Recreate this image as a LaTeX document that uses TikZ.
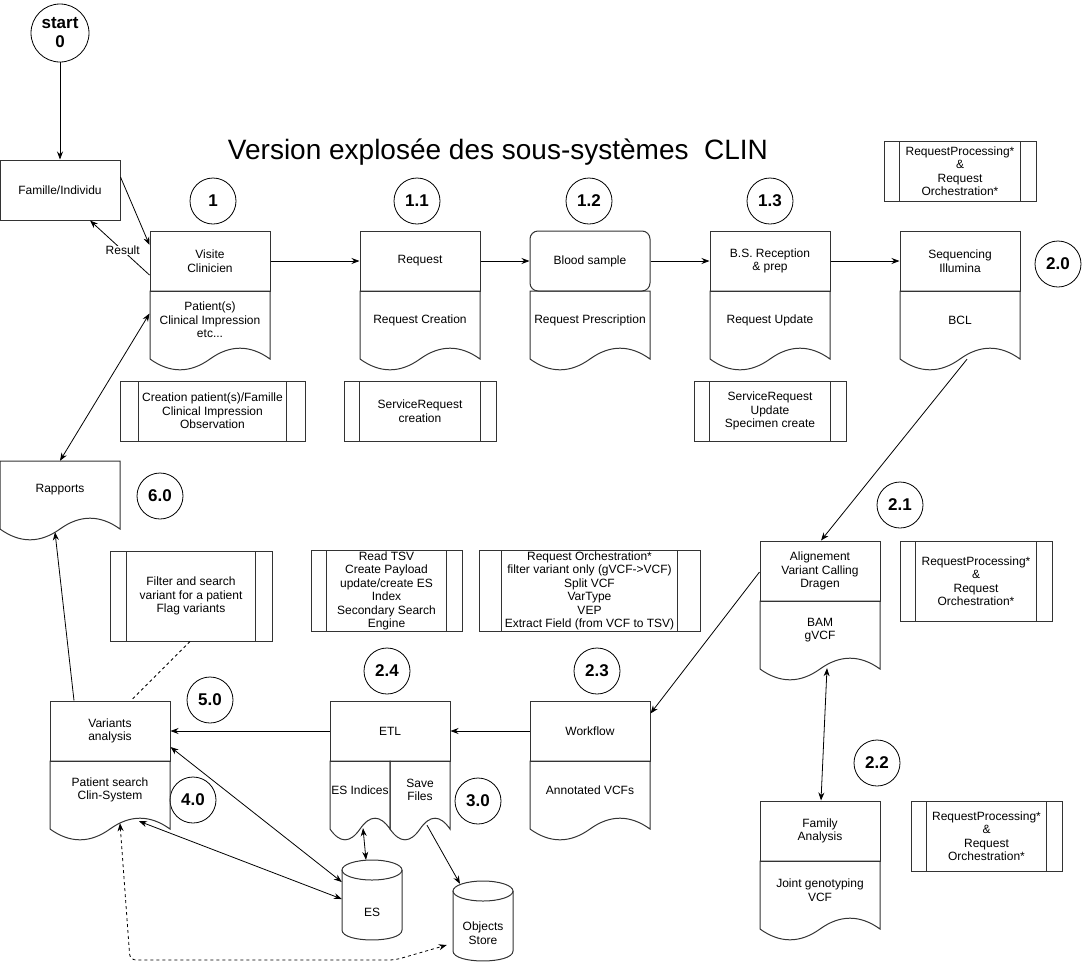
\documentclass[tikz,border=0pt]{standalone}
\usepackage{fontspec}
\setmainfont{Liberation Sans}
\usetikzlibrary{arrows.meta,calc}

% document shape: name, x, y, width, height, text
\newcommand\docshape[6]{%
  \draw[outline] (#2,#3) -- ({#2+#4},#3) -- ({#2+#4},{#3+0.85*#5})
    .. controls ({#2+5*#4/6},{#3+0.67*#5}) and ({#2+2*#4/3},{#3+0.67*#5}) .. ({#2+#4/2},{#3+0.85*#5})
    .. controls ({#2+#4/3},{#3+1.03*#5}) and ({#2+#4/6},{#3+1.03*#5}) .. (#2,{#3+0.85*#5}) -- cycle;
  \node[minimum width=#4, minimum height=#5, inner sep=0pt] (#1) at ({#2+#4/2},{#3+#5/2}) {};
  \node[lbl] (#1-txt) at ({#2+#4/2},{#3+29}) {#6};
}
% storage cylinder: name, x, y, width, height, text
\newcommand\dbstore[6]{%
  \draw[outline] ({#2+#4/2},{#3+10}) ellipse [x radius={#4/2}, y radius=10];
  \draw[outline] (#2,{#3+10}) -- (#2,{#3+#5-10})
    .. controls (#2,{#3+#5+3.3}) and ({#2+#4},{#3+#5+3.3}) .. ({#2+#4},{#3+#5-10}) -- ({#2+#4},{#3+10});
  \node[minimum width=#4, minimum height=#5, inner sep=0pt] (#1) at ({#2+#4/2},{#3+#5/2}) {};
  \node[lbl] (#1-txt) at ({#2+#4/2},{#3+#5/2+12}) {#6};
}

\begin{document}
\begin{tikzpicture}[x=1pt, y=-1pt, >={Stealth[length=8pt,width=6pt]},
    outline/.style={draw=black!80, line width=1pt},
    lbl/.style={font=\fontsize{12}{13.5}\selectfont, align=center},
    stage/.style={outline, lbl, minimum width=120, minimum height=60, inner sep=1pt},
    sub/.style={outline, lbl, minimum height=60, inner sep=0.5pt,
        path picture={
            \draw[outline] ($(path picture bounding box.north west)!0.1!(path picture bounding box.north east)$)
                -- ($(path picture bounding box.south west)!0.1!(path picture bounding box.south east)$)
                ($(path picture bounding box.north west)!0.9!(path picture bounding box.north east)$)
                -- ($(path picture bounding box.south west)!0.9!(path picture bounding box.south east)$);
        }},
    num/.style={circle, draw, line width=0.8pt, minimum size=46, inner sep=0pt, align=center,
        font=\fontsize{17}{19}\selectfont\bfseries},
    link/.style={line width=0.8pt}]
    \useasboundingbox (0,0) rectangle (1082,970);

    \node[num, minimum size=58] (start) at (60,33) {start\\0};
    \node[stage] (famille) at (60,190) {Famille/Individu};
    \node[font=\fontsize{28}{30}\selectfont] (title) at (498,152) {Version explosée des sous-systèmes \ CLIN};

    % first row
    \node[stage] (visite) at (210,261) {Visite\\Clinicien};
    \docshape{visited}{150}{291}{120}{80}{Patient(s)\\Clinical Impression\\etc...}
    \node[stage] (request) at (420,261) {Request};
    \docshape{requestd}{360}{291}{120}{80}{Request Creation}
    \node[stage, rounded corners=8pt] (blood) at (590,261) {Blood sample};
    \docshape{bloodd}{530}{291}{120}{80}{Request Prescription}
    \node[stage] (bsrec) at (770,261) {B.S. Reception\\\& prep};
    \docshape{bsrecd}{710}{291}{120}{80}{Request Update}
    \node[stage] (seq) at (960,261) {Sequencing\\Illumina};
    \docshape{seqd}{900}{291}{120}{80}{BCL}

    \node[num] (n1) at (213,201) {1};
    \node[num] (n11) at (417,201) {1.1};
    \node[num] (n12) at (589,201) {1.2};
    \node[num] (n13) at (770,201) {1.3};
    \node[num] (n20) at (1058,264) {2.0};

    \node[sub, minimum width=185] (subvisite) at (212.5,411) {Creation patient(s)/Famille\\Clinical Impression\\Observation};
    \node[sub, minimum width=152] (subrequest) at (420,411) {ServiceRequest\\creation};
    \node[sub, minimum width=152] (subbsrec) at (770,411) {ServiceRequest\\Update\\Specimen create};
    \node[sub, minimum width=152] (subseq) at (960,171) {RequestProcessing*\\\&\\Request\\Orchestration*};

    % left side
    \docshape{rapports}{0}{461}{120}{80}{Rapports}
    \node[num] (n60) at (160,496) {6.0};
    \node[sub, minimum width=162, minimum height=90] (subvariants) at (191,596) {Filter and search\\variant for a patient\\Flag variants};
    \node[sub, minimum width=151, minimum height=81] (subetl) at (386.5,591) {Read TSV\\Create Payload\\update/create ES\\Index\\Secondary Search\\Engine};
    \node[sub, minimum width=221, minimum height=81] (suborch) at (589.5,591) {Request Orchestration*\\filter variant only (gVCF->VCF)\\Split VCF\\VarType\\VEP\\Extract Field (from VCF to TSV)};

    % right side
    \node[num] (n21) at (900,505) {2.1};
    \node[stage] (align) at (820,571) {Alignement\\Variant Calling\\Dragen};
    \docshape{alignd}{760}{601}{120}{80}{BAM\\gVCF}
    \node[sub, minimum width=152, minimum height=80] (subalign) at (976,581) {RequestProcessing*\\\&\\Request\\Orchestration*};
    \node[num] (n22) at (877,763) {2.2};
    \node[stage] (family) at (820,831) {Family\\Analysis};
    \docshape{familyd}{760}{861}{120}{80}{Joint genotyping\\VCF}
    \node[sub, minimum width=151, minimum height=70] (subfamily) at (986.5,836) {RequestProcessing*\\\&\\Request\\Orchestration*};

    % bottom row
    \node[num] (n23) at (597,671) {2.3};
    \node[stage] (workflow) at (590,731) {Workflow};
    \docshape{workflowd}{530}{761}{120}{80}{Annotated VCFs}
    \node[num] (n24) at (387,671) {2.4};
    \node[stage] (etl) at (390,731) {ETL};
    \docshape{esidx}{330}{761}{60}{80}{ES Indices}
    \docshape{savef}{390}{761}{60}{80}{Save\\Files}
    \node[num] (n30) at (478,801) {3.0};
    \node[num] (n50) at (210,700) {5.0};
    \node[num] (n40) at (193,800) {4.0};
    \node[stage] (variants) at (110,731) {Variants\\analysis};
    \docshape{variantsd}{50}{761}{120}{80}{Patient search\\Clin-System}
    \dbstore{es}{342}{860}{60}{80}{ES}
    \dbstore{objs}{453}{881}{60}{80}{Objects\\Store}

    % connectors
    \draw[link,->] (start) -- (famille);
    \draw[link,->] ([yshift=13pt]famille.east) -- ([yshift=16pt]visite.west);
    \draw[link,->] ([yshift=-14pt]visite.west) -- node[pos=0.45, fill=white, inner sep=0.5pt, lbl] {Result} ([xshift=30pt]famille.south);
    \draw[link,->] (visite) -- (request);
    \draw[link,->] (request) -- (blood);
    \draw[link,->] (blood) -- (bsrec);
    \draw[link,->] (bsrec) -- (seq);
    \draw[link,<->] (rapports.north) -- ([yshift=-22pt]visite.south west);
    \draw[link,->] ([xshift=-36pt]variants.north) -- ([xshift=-5pt,yshift=9pt]rapports.south);
    \draw[link,dashed] ([xshift=-1pt]subvariants.south) -- ([xshift=21pt]variants.north);
    \draw[link,->] ([xshift=7pt,yshift=12pt]seqd.south) -- ([xshift=1pt]align.north);
    \draw[link,->] ([yshift=-1pt]align.west) -- ([yshift=-13pt]workflow.north east);
    \draw[link,<->] ([xshift=7pt,yshift=13pt]alignd.south) -- ([xshift=1pt]family.north);
    \draw[link,->] (workflow) -- (etl);
    \draw[link,->] (etl) -- (variants);
    \draw[link,<->] ([xshift=3pt,yshift=13pt]esidx.south) -- ([xshift=-6pt]es.north);
    \draw[link,->] ([xshift=7pt,yshift=16pt]savef.south) -- ([xshift=-23pt,yshift=-3pt]objs.north);
    \draw[link,<->] ([yshift=-16pt]variants.east) -- ([yshift=18pt]es.west);
    \draw[link,<->] ([xshift=29pt,yshift=20pt]variantsd.south) -- ([yshift=1pt]es.west);
    \draw[link,<->,dashed,rounded corners=6pt] ([xshift=10pt,yshift=18pt]variantsd.south) -- (130,960) -- (395,960) -- ([xshift=-6pt,yshift=-24pt]objs.west);
\end{tikzpicture}
\end{document}
